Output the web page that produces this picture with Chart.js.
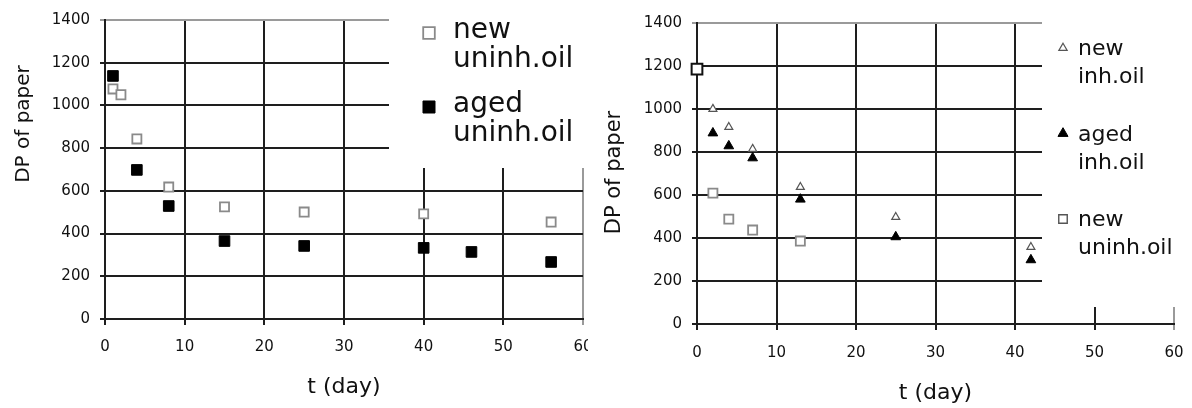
<!DOCTYPE html>
<html><head><meta charset="utf-8">
<script src="https://cdn.jsdelivr.net/npm/chart.js@4.4.1/dist/chart.umd.min.js"></script>
<style>
html,body{margin:0;padding:0;background:#fff;}
#wrap{position:relative;width:1192px;height:408px;overflow:hidden;background:#fff;}
canvas{position:absolute;top:0;}
#c1{left:0;}
#c2{left:588px;}
</style></head><body>
<div id="wrap"><canvas id="c1" width="588" height="408"></canvas><canvas id="c2" width="604" height="408"></canvas></div>
<script>
// ---------- data ----------
const xTicks = [0, 10, 20, 30, 40, 50, 60];
const yTicks = [0, 200, 400, 600, 800, 1000, 1200, 1400];

// left panel
const leftNewDays  = [1, 2, 4, 8, 15, 25, 40, 56];
const leftNewDP    = [1077, 1050, 843, 618, 525, 501, 492, 454];
const leftAgedDays = [1, 4, 8, 15, 25, 40, 46, 56];
const leftAgedDP   = [1138, 698, 529, 365, 342, 333, 314, 267];

// right panel
const rightInhDays     = [2, 4, 7, 13, 25, 42];
const rightNewInhDP    = [1000, 916, 814, 637, 497, 358];
const rightAgedInhDP   = [888, 828, 772, 580, 405, 298];
const rightUninhDays   = [0, 2, 4, 7, 13];
const rightNewUninhDP  = [1186, 609, 488, 437, 386];

const seriesLabelsLeft  = ['new uninh.oil', 'aged uninh.oil'];
const seriesLabelsRight = ['new inh.oil', 'aged inh.oil', 'new uninh.oil'];
const xTitle = 't (day)';
const yTitle = 'DP of paper';

// ---------- helpers ----------
const FONT = "'DejaVu Sans', sans-serif";
const zip = (xs, ys) => xs.map((x, i) => ({x: x, y: ys[i]}));

function mark(ctx, style, x, y, r, fill, stroke, lw) {
  ctx.beginPath();
  if (style === 'rect') {
    const s = r / Math.SQRT2;
    ctx.rect(x - s, y - s, 2 * s, 2 * s);
  } else {
    for (let k = 0; k < 3; k++) {
      const a = k * 2 * Math.PI / 3;
      const px = x + Math.sin(a) * r, py = y - Math.cos(a) * r;
      if (k === 0) ctx.moveTo(px, py); else ctx.lineTo(px, py);
    }
    ctx.closePath();
  }
  ctx.fillStyle = fill; ctx.fill();
  ctx.lineWidth = lw; ctx.strokeStyle = stroke; ctx.stroke();
}

const boxLegend = {
  id: 'boxLegend',
  afterDraw(chart) {
    const o = chart.options.plugins.boxLegend;
    if (!o) return;
    const ctx = chart.ctx;
    ctx.save();
    ctx.fillStyle = '#fff';
    ctx.fillRect(o.box[0], o.box[1], o.box[2] - o.box[0], o.box[3] - o.box[1]);
    chart.data.datasets.forEach((ds, i) => {
      const y0 = o.firstY + i * o.itemGap;
      const bg = Array.isArray(ds.pointBackgroundColor) ? ds.pointBackgroundColor[0] : ds.pointBackgroundColor;
      mark(ctx, ds.pointStyle, o.markerX, y0 + o.markerDy, o.markerRadius[i], bg, ds.borderColor, o.markerLine[i]);
      ctx.font = o.fontSize + 'px ' + FONT;
      ctx.textBaseline = 'middle';
      ctx.textAlign = 'left';
      ctx.fillStyle = '#111';
      ds.label.split(' ').forEach((t, j) => ctx.fillText(t, o.textX, y0 + j * o.lineGap));
    });
    ctx.restore();
  }
};

const sideTitle = {
  id: 'sideTitle',
  afterDraw(chart) {
    const o = chart.options.plugins.sideTitle;
    if (!o) return;
    const ctx = chart.ctx;
    ctx.save();
    ctx.translate(o.x, o.y);
    ctx.rotate(-Math.PI / 2);
    ctx.font = o.fontSize + 'px ' + FONT;
    ctx.textAlign = 'center';
    ctx.textBaseline = 'middle';
    ctx.fillStyle = '#111';
    ctx.fillText(o.text, 0, 0);
    ctx.restore();
  }
};

function makeOptions(p) {
  return {
    responsive: false,
    animation: false,
    events: [],
    devicePixelRatio: 1,
    layout: {padding: p.padding, autoPadding: false},
    plugins: {
      legend: {display: false},
      tooltip: {enabled: false},
      boxLegend: p.legend,
      sideTitle: p.yTitle
    },
    scales: {
      x: {
        type: 'linear',
        min: xTicks[0], max: xTicks[xTicks.length - 1],
        ticks: {stepSize: xTicks[1] - xTicks[0], color: '#111', font: {family: FONT, size: 15}, padding: p.xTickPad, maxRotation: 0,
                callback: v => String(v)},
        grid: {
          color: c => (c.tick && c.tick.value === xTicks[xTicks.length - 1]) ? '#9a9a9a' : '#1e1e1e',
          lineWidth: 2, tickLength: 6
        },
        border: {color: '#1e1e1e', width: 2},
        title: {display: true, text: xTitle, color: '#111', font: {family: FONT, size: 22}, padding: {top: 0, bottom: p.xTitlePad}},
        afterFit: s => { s.height = p.xHeight; s.paddingLeft = 0; s.paddingRight = 0; }
      },
      y: {
        type: 'linear',
        min: yTicks[0], max: yTicks[yTicks.length - 1],
        ticks: {stepSize: yTicks[1] - yTicks[0], color: '#111', font: {family: FONT, size: 15}, padding: 10,
                callback: v => String(v)},
        grid: {
          color: c => (c.tick && c.tick.value === yTicks[yTicks.length - 1]) ? '#9a9a9a' : '#1e1e1e',
          lineWidth: 2, tickLength: 5
        },
        border: {color: '#1e1e1e', width: 2},
        afterFit: s => { s.width = p.yWidth; s.paddingTop = 0; s.paddingBottom = 0; }
      }
    }
  };
}

// ---------- left chart ----------
new Chart(document.getElementById('c1'), {
  type: 'scatter',
  data: {
    datasets: [
      {label: seriesLabelsLeft[0], data: zip(leftNewDays, leftNewDP), showLine: false, clip: false,
       pointStyle: 'rect', pointRadius: 6.4, pointBackgroundColor: '#ffffff', pointBorderColor: '#8a8a8a', pointBorderWidth: 1.8, borderColor: '#8a8a8a'},
      {label: seriesLabelsLeft[1], data: zip(leftAgedDays, leftAgedDP), showLine: false, clip: false,
       pointStyle: 'rect', pointRadius: 7.5, pointBackgroundColor: '#000000', pointBorderColor: '#000000', pointBorderWidth: 1, borderColor: '#000000'}
    ]
  },
  options: makeOptions({
    padding: {left: 0, top: 20, right: 5, bottom: 0},
    xHeight: 89, yWidth: 105, xTickPad: 13, xTitlePad: 8,
    yTitle: {text: yTitle, x: 24, y: 124, fontSize: 20},
    legend: {box: [389, 0, 588, 168], markerX: 429, textX: 453, firstY: 31, lineGap: 29, itemGap: 74, markerDy: 2,
             fontSize: 28, markerRadius: [8.2, 8.5], markerLine: [1.8, 1]}
  }),
  plugins: [boxLegend, sideTitle]
});

// ---------- right chart ----------
new Chart(document.getElementById('c2'), {
  type: 'scatter',
  data: {
    datasets: [
      {label: seriesLabelsRight[0], data: zip(rightInhDays, rightNewInhDP), showLine: false, clip: false,
       pointStyle: 'triangle', pointRadius: 4.6, pointBackgroundColor: '#ffffff', pointBorderColor: '#555555', pointBorderWidth: 1.2, borderColor: '#555555'},
      {label: seriesLabelsRight[1], data: zip(rightInhDays, rightAgedInhDP), showLine: false, clip: false,
       pointStyle: 'triangle', pointRadius: 5.6, pointBackgroundColor: '#000000', pointBorderColor: '#000000', pointBorderWidth: 1, borderColor: '#000000'},
      {label: seriesLabelsRight[2], data: zip(rightUninhDays, rightNewUninhDP), showLine: false, clip: false,
       pointStyle: 'rect', pointRadius: [7.6, 6.4, 6.4, 6.4, 6.4], pointBackgroundColor: '#ffffff',
       pointBorderColor: ['#111111', '#8a8a8a', '#8a8a8a', '#8a8a8a', '#8a8a8a'], pointBorderWidth: [2, 1.8, 1.8, 1.8, 1.8], borderColor: '#555555'}
    ]
  },
  options: makeOptions({
    padding: {left: 0, top: 23, right: 18, bottom: 0},
    xHeight: 84, yWidth: 109, xTickPad: 14, xTitlePad: 2,
    yTitle: {text: yTitle, x: 27, y: 172.5, fontSize: 21},
    legend: {box: [454, 0, 604, 307], markerX: 475, textX: 490, firstY: 49.5, lineGap: 28, itemGap: 85.5, markerDy: -1.5,
             fontSize: 22, markerRadius: [4.8, 5.8, 6], markerLine: [1.2, 1, 1.4]}
  }),
  plugins: [boxLegend, sideTitle]
});
</script>
</body></html>
